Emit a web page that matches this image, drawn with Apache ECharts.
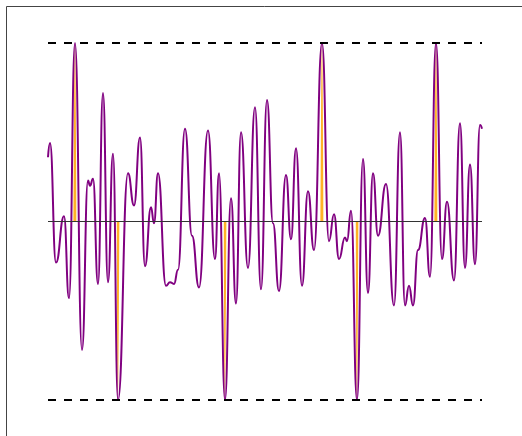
<!DOCTYPE html>
<html><head><meta charset="utf-8">
<script src="https://cdn.jsdelivr.net/npm/echarts@6/dist/echarts.min.js"></script>
<style>html,body{margin:0;padding:0;background:#fff}#c{width:522px;height:436px}</style>
</head><body><div id="c"></div>
<script>
// sample positions (time steps) and signal values (normalised so the clip level is ±1)
const xs = [0,2,8,16,21,27,34,40,42,45,50,55,60,65,70,80,86,92,97,103,106,110,118,122,126,130,137,144,151,160,167,171,177,183,188,193,200,207,213,219,225,231,238,243,248,254,260,266,274,281,286,291,297,299,303,309,315,320,325,330,338,346,352,357,361,365,370,377,382,388,394,399,406,412,417,422,427,432,434];
const ys = [0.36,0.44,-0.23,0.03,-0.43,1.00,-0.72,0.23,0.20,0.24,-0.35,0.72,-0.34,0.38,-1.00,0.27,0.09,0.47,-0.25,0.08,-0.01,0.27,-0.36,-0.34,-0.35,-0.27,0.52,-0.08,-0.37,0.51,-0.21,0.27,-1.00,0.13,-0.46,0.50,-0.26,0.64,-0.38,0.68,-0.01,-0.39,0.26,-0.10,0.41,-0.36,0.17,-0.16,1.00,-0.11,0.04,-0.21,-0.09,-0.11,0.06,-1.00,0.35,-0.40,0.27,-0.08,0.21,-0.47,0.50,-0.47,-0.36,-0.47,-0.16,0.02,-0.31,1.00,-0.21,0.11,-0.33,0.55,-0.26,0.32,-0.24,0.54,0.52];
// clipped excursions: [left edge, extreme position, right edge, extreme value]
const spikeStart = [25.6,68.8,175.8,272.6,307.8,386.6];
const spikePeak  = [27,70,177,274,309,388];
const spikeEnd   = [28.6,71.4,178.4,275.6,310.4,389.6];
const spikeVal   = [1,-1,-1,1,-1,1];
const clipLevels = [1,-1];

const chart = echarts.init(document.getElementById('c'), null, {renderer:'canvas'});
const mainData = xs.map((x,i)=>[x,ys[i]]);
const fillData = [];
spikePeak.forEach((p,i)=>{
  fillData.push([spikeStart[i],0],[p,spikeVal[i]],[spikeEnd[i],0],[spikeEnd[i]+0.01,null]);
});
chart.setOption({
  animation:false,
  graphic:[{type:'rect',shape:{x:6.5,y:6.5,width:560,height:480},style:{fill:'none',stroke:'#444',lineWidth:1},silent:true}],
  grid:{left:48,right:40,top:43,bottom:36},
  xAxis:{type:'value',min:0,max:434,show:false},
  yAxis:{type:'value',min:-1,max:1,show:false},
  series:[
    {type:'line',data:fillData,smooth:0.5,smoothMonotone:'x',connectNulls:false,symbol:'none',
     lineStyle:{width:0,opacity:0},areaStyle:{color:'#FFA500',opacity:0.85,origin:0},z:1},
    {type:'line',data:mainData,smooth:0.5,smoothMonotone:'x',symbol:'none',
     lineStyle:{color:'#800080',width:2},z:3,
     markLine:{silent:true,symbol:'none',label:{show:false},animation:false,
       data:[
         {yAxis:clipLevels[0],lineStyle:{color:'#000',width:2,type:[8,8]}},
         {yAxis:clipLevels[1],lineStyle:{color:'#000',width:2,type:[8,8]}},
         {yAxis:0,lineStyle:{color:'#333',width:1,type:'solid'}}
       ]}}
  ]
});
</script></body></html>
